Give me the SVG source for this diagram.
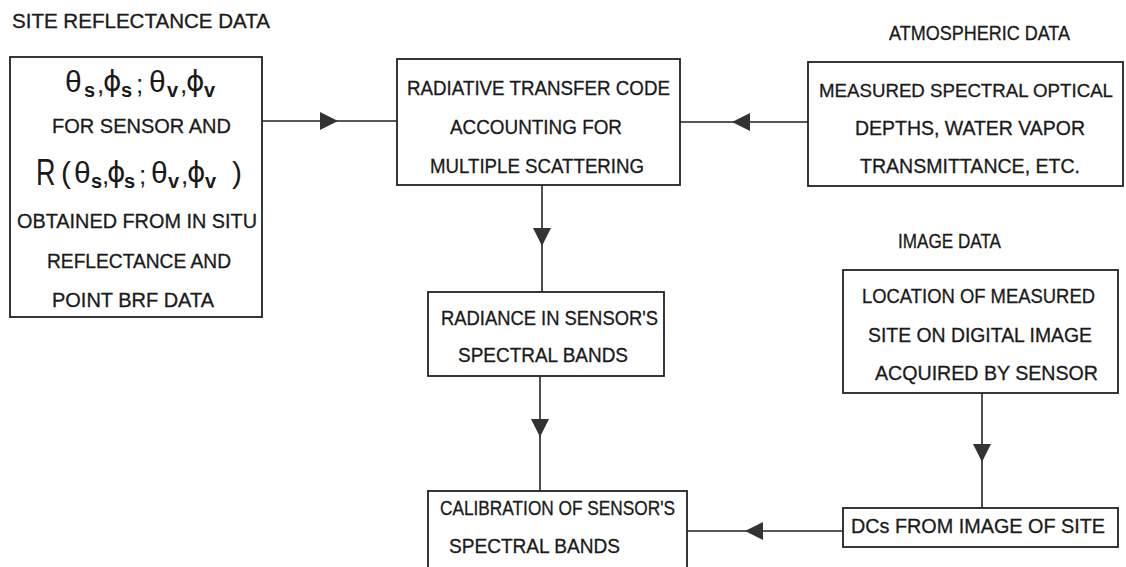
<svg xmlns="http://www.w3.org/2000/svg" width="1126" height="567" viewBox="0 0 1126 567">
<style>
.bg{fill:#ffffff}
.box{fill:#ffffff;stroke:#222;stroke-width:1.8}
.t{font-family:"Liberation Sans",Arial,sans-serif;font-size:20px;fill:#1a1a1a;stroke:#1a1a1a;stroke-width:0.3}
.th{font-family:"Liberation Sans","DejaVu Sans",sans-serif;font-size:30px;fill:#1a1a1a}
.ph{font-family:"DejaVu Sans","Liberation Sans",sans-serif;font-size:28px;fill:#1a1a1a}
.pu{font-family:"Liberation Sans",Arial,sans-serif;font-size:26px;fill:#1a1a1a}
.sub{font-family:"Liberation Sans",Arial,sans-serif;font-size:20px;font-weight:bold;fill:#1a1a1a}
.big{font-family:"Liberation Sans",Arial,sans-serif;font-size:36px;fill:#1a1a1a}
.conn{fill:none;stroke:#222;stroke-width:1.6}
</style>
<defs>
<marker id="ah" viewBox="0 0 18 18" refX="18" refY="9" markerWidth="18" markerHeight="18" markerUnits="userSpaceOnUse" orient="auto">
<path d="M0,0 L18,9 L0,18 z" fill="#333"/>
</marker>
</defs>
<rect class="bg" x="0" y="0" width="1126" height="567"/>

<g id="labels">
<text class="t" x="12" y="28" textLength="258" lengthAdjust="spacingAndGlyphs">SITE REFLECTANCE DATA</text>
<text class="t" x="889" y="40" textLength="181" lengthAdjust="spacingAndGlyphs">ATMOSPHERIC DATA</text>
<text class="t" x="898" y="248" textLength="103" lengthAdjust="spacingAndGlyphs">IMAGE DATA</text>
</g>

<g id="connectors">
<path class="conn" d="M262,121 L338,121 L397,121" marker-mid="url(#ah)"/>
<path class="conn" d="M808,122 L732,122 L680,122" marker-mid="url(#ah)"/>
<path class="conn" d="M542,185 L542,246 L542,292" marker-mid="url(#ah)"/>
<path class="conn" d="M540,376 L540,437 L540,491" marker-mid="url(#ah)"/>
<path class="conn" d="M982,393 L982,462 L982,508" marker-mid="url(#ah)"/>
<path class="conn" d="M843,531 L745,531 L687,531" marker-mid="url(#ah)"/>
</g>

<g id="site-reflectance">
<rect class="box" x="10" y="57" width="252" height="260"/>
<text class="th" x="65" y="92">θ</text>
<text class="sub" x="84" y="97">s</text>
<text class="pu" x="97" y="93">,</text>
<text class="ph" x="103" y="91">ϕ</text>
<text class="sub" x="121" y="97">s</text>
<text class="pu" x="136" y="93">;</text>
<text class="th" x="149" y="92">θ</text>
<text class="sub" x="167" y="97">v</text>
<text class="pu" x="180" y="93">,</text>
<text class="ph" x="186" y="91">ϕ</text>
<text class="sub" x="204" y="97">v</text>
<text class="t" x="52" y="133" textLength="179" lengthAdjust="spacingAndGlyphs">FOR SENSOR AND</text>
<text class="big" transform="translate(36,185) scale(0.75,1)" x="0" y="0">R</text>
<text class="th" x="61" y="183">(</text>
<text class="th" x="74" y="183">θ</text>
<text class="sub" x="91" y="188">s</text>
<text class="pu" x="102" y="184">,</text>
<text class="ph" x="107" y="182">ϕ</text>
<text class="sub" x="124" y="188">s</text>
<text class="pu" x="139" y="184">;</text>
<text class="th" x="151" y="183">θ</text>
<text class="sub" x="168" y="188">v</text>
<text class="pu" x="181" y="184">,</text>
<text class="ph" x="187" y="182">ϕ</text>
<text class="sub" x="205" y="188">v</text>
<text class="th" x="232" y="183">)</text>
<text class="t" x="17" y="228" textLength="240" lengthAdjust="spacingAndGlyphs">OBTAINED FROM IN SITU</text>
<text class="t" x="47" y="268" textLength="184" lengthAdjust="spacingAndGlyphs">REFLECTANCE AND</text>
<text class="t" x="52" y="307" textLength="162" lengthAdjust="spacingAndGlyphs">POINT BRF DATA</text>
</g>

<g id="radiative-transfer">
<rect class="box" x="397" y="59" width="283" height="126"/>
<text class="t" x="407" y="95" textLength="263" lengthAdjust="spacingAndGlyphs">RADIATIVE TRANSFER CODE</text>
<text class="t" x="450" y="134" textLength="172" lengthAdjust="spacingAndGlyphs">ACCOUNTING FOR</text>
<text class="t" x="430" y="173" textLength="214" lengthAdjust="spacingAndGlyphs">MULTIPLE SCATTERING</text>
</g>

<g id="atmospheric">
<rect class="box" x="808" y="62" width="315" height="124"/>
<text class="t" x="819" y="97" font-size="18.5" textLength="294" lengthAdjust="spacingAndGlyphs" style="font-size:18.5px">MEASURED SPECTRAL OPTICAL</text>
<text class="t" x="855" y="135" textLength="230" lengthAdjust="spacingAndGlyphs">DEPTHS, WATER VAPOR</text>
<text class="t" x="860" y="173" textLength="220" lengthAdjust="spacingAndGlyphs">TRANSMITTANCE, ETC.</text>
</g>

<g id="radiance">
<rect class="box" x="428" y="292" width="236" height="84"/>
<text class="t" x="441" y="325" textLength="217" lengthAdjust="spacingAndGlyphs">RADIANCE IN SENSOR'S</text>
<text class="t" x="458" y="362" textLength="170" lengthAdjust="spacingAndGlyphs">SPECTRAL BANDS</text>
</g>

<g id="image-location">
<rect class="box" x="843" y="270" width="275" height="123"/>
<text class="t" x="862" y="303" textLength="233" lengthAdjust="spacingAndGlyphs">LOCATION OF MEASURED</text>
<text class="t" x="868" y="342" textLength="224" lengthAdjust="spacingAndGlyphs">SITE ON DIGITAL IMAGE</text>
<text class="t" x="875" y="380" textLength="223" lengthAdjust="spacingAndGlyphs">ACQUIRED BY SENSOR</text>
</g>

<g id="dcs">
<rect class="box" x="843" y="508" width="275" height="39"/>
<text class="t" x="851" y="533" textLength="254" lengthAdjust="spacingAndGlyphs">DCs FROM IMAGE OF SITE</text>
</g>

<g id="calibration">
<rect class="box" x="428" y="491" width="259" height="80"/>
<text class="t" x="440" y="515" textLength="235" lengthAdjust="spacingAndGlyphs">CALIBRATION OF SENSOR'S</text>
<text class="t" x="449" y="553" textLength="171" lengthAdjust="spacingAndGlyphs">SPECTRAL BANDS</text>
</g>
</svg>
